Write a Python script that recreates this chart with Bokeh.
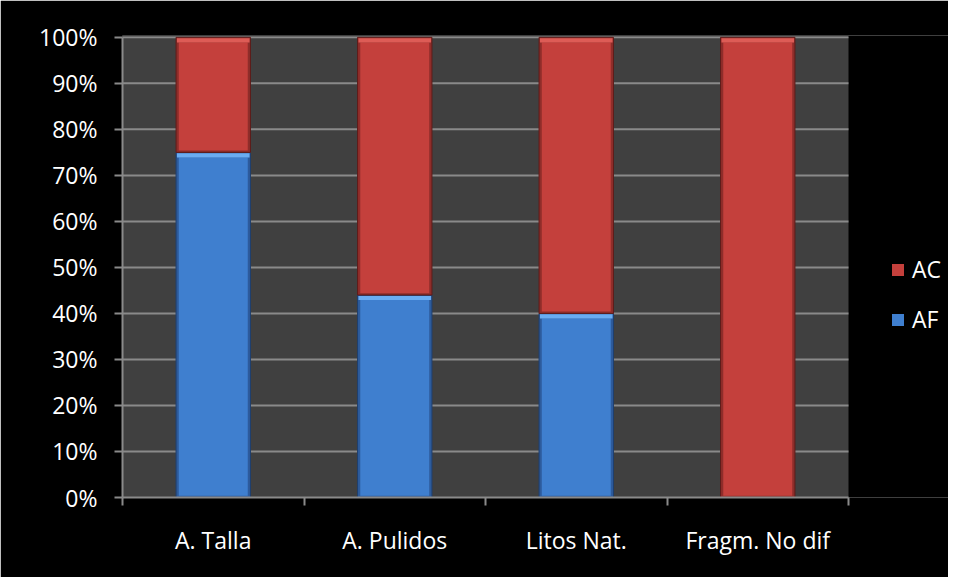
from bokeh.plotting import figure
from bokeh.models import Range1d, FixedTicker, Legend, LegendItem, ColumnDataSource
from bokeh.embed import file_html
from bokeh.resources import INLINE

# ---- data ----
categories = ["A. Talla", "A. Pulidos", "Litos Nat.", "Fragm. No dif"]
af = [0.75, 0.44, 0.40, 0.0]
ac = [0.25, 0.56, 0.60, 1.0]
y_ticks = [0.0, 0.1, 0.2, 0.3, 0.4, 0.5, 0.6, 0.7, 0.8, 0.9, 1.0]
y_labels = ["0%", "10%", "20%", "30%", "40%", "50%", "60%", "70%", "80%", "90%", "100%"]

FONT = "Open Sans"
FS = "23px"
N = len(categories)
xs = [i + 0.5 for i in range(N)]
bounds = [float(i) for i in range(N + 1)]
BW = 0.41
BEV = 0.011
GRID = "#8a8a8a"

# frame spans from the y axis to the right edge; plot area (grey) covers the N categories
p = figure(width=948, height=577, x_range=Range1d(0, N * 826 / 726),
           y_range=Range1d(y_ticks[0], y_ticks[-1] + 0.004),
           output_backend="svg", toolbar_location=None,
           min_border_left=122, min_border_right=0, min_border_top=35, min_border_bottom=80)
p.background_fill_color = "black"
p.border_fill_color = "black"
p.outline_line_color = None
p.outline_line_alpha = 0
p.outline_line_width = 0
p.grid.visible = False

# plot area + grid lines
p.quad(left=0, right=N, bottom=y_ticks[0], top=y_ticks[-1], fill_color="#404040", line_color=None, level="underlay")
p.segment(x0=0, x1=N, y0=y_ticks[1:], y1=y_ticks[1:], line_color=GRID, line_width=2)

# y axis
ya = p.yaxis[0]
ya.bounds = (y_ticks[0], y_ticks[-1])
ya.ticker = FixedTicker(ticks=y_ticks)
ya.major_label_overrides = {t: l for t, l in zip(y_ticks, y_labels)}
ya.axis_line_color = GRID
ya.axis_line_width = 2
ya.major_tick_line_color = GRID
ya.major_tick_line_width = 2
ya.major_tick_out = 8
ya.major_tick_in = 0
ya.minor_tick_line_color = None
ya.major_label_standoff = 17
ya.major_label_text_font = FONT
ya.major_label_text_font_size = FS
ya.major_label_text_color = "white"

# x axis
xa = p.xaxis[0]
xa.bounds = (0, N)
xa.ticker = FixedTicker(ticks=xs, minor_ticks=bounds)
xa.major_label_overrides = {x: c for x, c in zip(xs, categories)}
xa.axis_line_color = GRID
xa.axis_line_width = 2
xa.major_tick_line_color = None
xa.major_tick_out = 8
xa.major_tick_in = 0
xa.minor_tick_line_color = GRID
xa.minor_tick_line_width = 2
xa.minor_tick_out = 8
xa.minor_tick_in = 0
xa.major_label_standoff = 18
xa.major_label_text_font = FONT
xa.major_label_text_font_size = FS
xa.major_label_text_color = "white"

# bars
ac_top = [a + c for a, c in zip(af, ac)]
p.vbar(x=xs, bottom=0, top=af, width=BW, fill_color="#2d5b9c", line_color="#1f3f6e", line_width=1)
p.vbar(x=xs, bottom=af, top=ac_top, width=BW, fill_color="#8f2d2a", line_color="#5e1c1a", line_width=1)

def inner(bottoms, tops):
    keep = [i for i in range(N) if tops[i] - bottoms[i] > 0.03]
    return ColumnDataSource(dict(
        x=[xs[i] for i in keep],
        b=[bottoms[i] + 0.004 for i in keep],
        t=[tops[i] - BEV for i in keep],
        tb=[tops[i] - BEV for i in keep],
        tt=[tops[i] - 0.002 for i in keep],
    ))

sb = inner([0] * N, af)
sr = inner(af, ac_top)
blue_main = p.vbar(x="x", bottom="b", top="t", width=BW - 0.03, source=sb, fill_color="#3f7fcf",
                   line_color=None)
p.vbar(x="x", bottom="tb", top="tt", width=BW - 0.01, source=sb, fill_color="#6aacf2", line_color=None)
red_main = p.vbar(x="x", bottom="b", top="t", width=BW - 0.03, source=sr, fill_color="#c4403c",
                  line_color=None)
p.vbar(x="x", bottom="tb", top="tt", width=BW - 0.01, source=sr, fill_color="#dd5c56", line_color=None)

# legend (swatches use the bar renderers)
legend = Legend(items=[LegendItem(label="AC", renderers=[red_main]),
                       LegendItem(label="AF", renderers=[blue_main])],
                location=(768, 162), orientation="vertical")
legend.background_fill_alpha = 0
legend.border_line_color = None
legend.padding = 0
legend.margin = 0
legend.spacing = 18
legend.glyph_width = 15
legend.glyph_height = 15
legend.label_standoff = 7
legend.label_text_font = FONT
legend.label_text_font_size = FS
legend.label_text_color = "white"
p.add_layout(legend, "center")

open("out.html", "w").write(file_html(p, INLINE))
